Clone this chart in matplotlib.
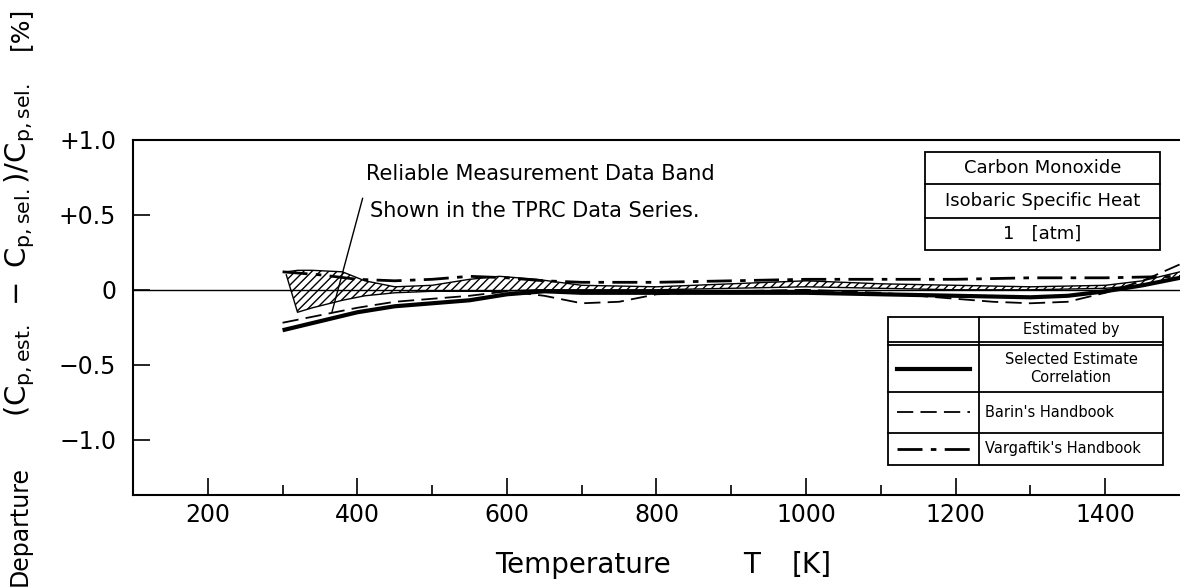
import matplotlib
matplotlib.use("Agg")
import matplotlib.pyplot as plt
from matplotlib.lines import Line2D
from matplotlib.patches import Rectangle

# data (temperature in K, departure in %)
band_T = [305, 320, 340, 380, 410, 450, 500, 550, 590, 640, 700, 800, 900, 1000, 1100, 1200, 1300, 1400, 1450, 1500]
band_upper = [0.12, 0.13, 0.13, 0.12, 0.06, 0.02, 0.03, 0.07, 0.09, 0.07, 0.03, 0.02, 0.04, 0.06, 0.04, 0.03, 0.02, 0.03, 0.06, 0.12]
band_lower = [0.10, -0.15, -0.12, -0.07, -0.04, -0.02, -0.01, -0.01, -0.01, 0.0, 0.0, 0.0, 0.01, 0.02, 0.01, 0.0, 0.0, 0.01, 0.03, 0.08]

sel_T = [300, 350, 400, 450, 500, 550, 600, 650, 700, 800, 900, 1000, 1100, 1200, 1300, 1350, 1400, 1450, 1500]
sel_dev = [-0.27, -0.21, -0.15, -0.11, -0.09, -0.07, -0.03, -0.01, -0.02, -0.02, -0.02, -0.02, -0.03, -0.04, -0.05, -0.04, -0.01, 0.03, 0.08]

barin_T = [300, 350, 400, 450, 500, 550, 600, 650, 700, 750, 800, 900, 1000, 1100, 1200, 1250, 1300, 1350, 1400, 1450, 1500]
barin_dev = [-0.22, -0.17, -0.12, -0.08, -0.06, -0.04, -0.01, -0.04, -0.09, -0.08, -0.03, -0.01, 0.0, -0.02, -0.06, -0.08, -0.09, -0.08, -0.02, 0.06, 0.17]

varg_T = [300, 350, 400, 450, 500, 550, 600, 650, 700, 800, 900, 1000, 1100, 1200, 1300, 1400, 1500]
varg_dev = [0.12, 0.10, 0.07, 0.06, 0.07, 0.09, 0.08, 0.06, 0.05, 0.05, 0.06, 0.07, 0.07, 0.07, 0.08, 0.08, 0.09]

xticks = [200, 400, 600, 800, 1000, 1200, 1400]
xminor = [300, 500, 700, 900, 1100, 1300]
yticks = [1.0, 0.5, 0.0, -0.5, -1.0]
ytick_labels = ["+1.0", "+0.5", "0", "\u22120.5", "\u22121.0"]

info_rows = ["Carbon Monoxide", "Isobaric Specific Heat", "1   [atm]"]
legend_rows = ["Selected Estimate\nCorrelation", "Barin's Handbook", "Vargaftik's Handbook"]

plt.rcParams["font.family"] = ["DejaVu Sans"]
plt.rcParams["mathtext.fontset"] = "dejavusans"
narrow = ["Liberation Sans Narrow", "DejaVu Sans"]

fig = plt.figure(figsize=(11.8, 5.87), dpi=100)
ax = fig.add_axes([0.1127, 0.1567, 0.8873, 0.6048])

# measurement band
ax.fill_between(band_T, band_lower, band_upper, facecolor="none", edgecolor="black",
                hatch="////", linewidth=0)
ax.plot(band_T, band_upper, color="black", lw=1.0)
ax.plot(band_T, band_lower, color="black", lw=1.0)

# zero line
ax.axhline(0, color="black", lw=1.0)

# curves
ax.plot(sel_T, sel_dev, color="black", lw=3.0, solid_capstyle="butt")
ax.plot(barin_T, barin_dev, color="black", lw=1.3, dashes=(9, 4))
ax.plot(varg_T, varg_dev, color="black", lw=2.0, dashes=(9, 3, 2, 3))

ax.set_xlim(100, 1500)
ax.set_ylim(-1.37, 1.0)

ax.set_xticks(xticks)
ax.set_xticklabels([str(t) for t in xticks], fontsize=17, family=narrow)
ax.set_xticks(xminor, minor=True)
ax.set_yticks(yticks)
ax.set_yticklabels(ytick_labels, fontsize=17)
ax.tick_params(axis="both", which="major", direction="in", length=12, width=1.2)
ax.tick_params(axis="x", which="minor", direction="in", length=7, width=1.2)
ax.tick_params(axis="x", pad=6)
ax.tick_params(axis="y", pad=12)

for s in ["left", "bottom", "top"]:
    ax.spines[s].set_linewidth(1.5)
ax.spines["right"].set_visible(False)

# annotation for the band
ax.text(0.223, 0.905, "Reliable Measurement Data Band", transform=ax.transAxes,
        fontsize=15, va="center", ha="left")
ax.text(0.226, 0.800, "Shown in the TPRC Data Series.", transform=ax.transAxes,
        fontsize=15, va="center", ha="left")
ax.plot([407, 366], [0.61, -0.15], color="black", lw=1.0)

# info box
tr = ax.transAxes
bx0, bx1 = 0.7565, 0.981
row_y = [0.966, 0.876, 0.780, 0.690]
ax.add_patch(Rectangle((bx0, row_y[3]), bx1 - bx0, row_y[0] - row_y[3], transform=tr,
                       facecolor="white", edgecolor="black", lw=1.3, zorder=5))
for yy in row_y[1:3]:
    ax.add_line(Line2D([bx0, bx1], [yy, yy], transform=tr, color="black", lw=1.3, zorder=6))
for i, txt in enumerate(info_rows):
    ax.text((bx0 + bx1) / 2, (row_y[i] + row_y[i + 1]) / 2, txt, transform=tr,
            ha="center", va="center", fontsize=13, zorder=7)

# legend table
lx0, lxm, lx1 = 0.721, 0.808, 0.984
ly = [0.501, 0.4225, 0.290, 0.175, 0.085]
ax.add_patch(Rectangle((lx0, ly[4]), lx1 - lx0, ly[0] - ly[4], transform=tr,
                       facecolor="white", edgecolor="black", lw=1.3, zorder=5))
ax.add_line(Line2D([lxm, lxm], [ly[4], ly[0]], transform=tr, color="black", lw=1.3, zorder=6))
ax.add_line(Line2D([lx0, lx1], [0.431, 0.431], transform=tr, color="black", lw=1.3, zorder=6))
for yy in ly[1:4]:
    ax.add_line(Line2D([lx0, lx1], [yy, yy], transform=tr, color="black", lw=1.3, zorder=6))
ax.text((lxm + lx1) / 2, (ly[0] + 0.431) / 2, "Estimated by", transform=tr,
        ha="center", va="center", fontsize=10.5, zorder=7)
styles = [dict(lw=3.0), dict(lw=1.3, dashes=(9, 4)), dict(lw=2.0, dashes=(9, 3, 2, 3))]
for i, (txt, st) in enumerate(zip(legend_rows, styles)):
    yc = (ly[i + 1] + ly[i + 2]) / 2
    ax.add_line(Line2D([lx0 + 0.009, lxm - 0.009], [yc, yc], transform=tr, color="black",
                       zorder=7, **st))
    ax.text(lxm + 0.006 if i else (lxm + lx1) / 2, yc, txt, transform=tr,
            ha="left" if i else "center", va="center", fontsize=10.5, zorder=7,
            linespacing=1.3)

# axis labels
fig.text(583 / 1180, 1 - 565 / 587, "Temperature", fontsize=20, ha="center", va="center")
fig.text(752 / 1180, 1 - 565 / 587, "T", fontsize=20, ha="center", va="center")
fig.text(812 / 1180, 1 - 565 / 587, "[K]", fontsize=20, ha="center", va="center")

fig.text(20 / 1180, 1 - 526 / 587, "Departure", fontsize=17, rotation=90, ha="center", va="center")
fig.text(20 / 1180, 1 - 250 / 587,
         r"$(\mathrm{C_{p,est.}}\;-\;\mathrm{C_{p,sel.}})/\mathrm{C_{p,sel.}}$",
         fontsize=21, rotation=90, ha="center", va="center")
fig.text(20 / 1180, 1 - 28 / 587, "[%]", fontsize=18, rotation=90, ha="center", va="center")

fig.savefig("out.png", dpi=100, facecolor="white")
